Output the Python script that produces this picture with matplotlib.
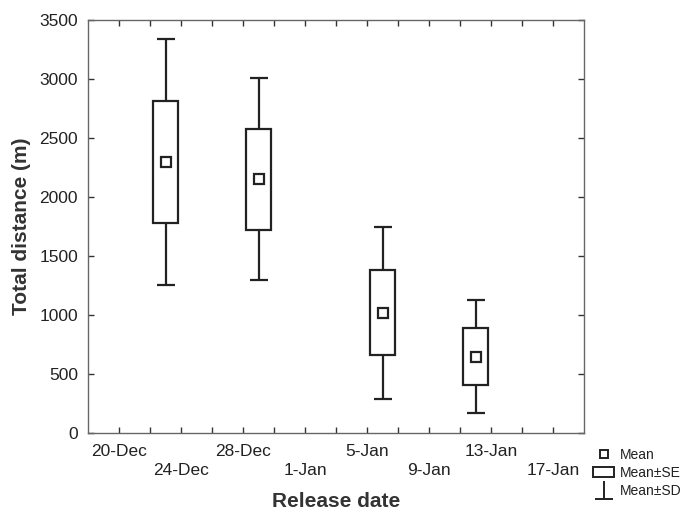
import matplotlib
matplotlib.use('Agg')
import matplotlib.pyplot as plt
import matplotlib.dates as mdates
import numpy as np
from datetime import date, timedelta
from matplotlib.lines import Line2D
from matplotlib.patches import Patch
from matplotlib.path import Path

plt.rcParams['font.family'] = ['Liberation Sans', 'DejaVu Sans']

release = [date(2012, 12, 23), date(2012, 12, 29), date(2013, 1, 6), date(2013, 1, 12)]
mean = np.array([2296, 2150, 1018, 647])
se = np.array([519, 430, 361, 240])
sd = np.array([1045, 855, 727, 480])

x = mdates.date2num(release)
box_w = 1.6
cap_w = 1.16
lw = 1.6
ink = '#222222'

fig = plt.figure(figsize=(6.85, 5.11), dpi=100)
ax = fig.add_axes([0.1285, 0.1526, 0.7241, 0.8083])

# whiskers (SD) and caps
ax.vlines(x, mean + se, mean + sd, color=ink, lw=lw, zorder=2)
ax.vlines(x, mean - sd, mean - se, color=ink, lw=lw, zorder=2)
ax.hlines(mean + sd, x - cap_w / 2, x + cap_w / 2, color=ink, lw=lw, zorder=2)
ax.hlines(mean - sd, x - cap_w / 2, x + cap_w / 2, color=ink, lw=lw, zorder=2)
# SE boxes
ax.bar(x, 2 * se, bottom=mean - se, width=box_w, facecolor='white',
       edgecolor=ink, linewidth=lw, zorder=3)
# mean
ax.plot(x, mean, 's', ms=6.5, mfc='white', mec=ink, mew=lw, zorder=4)

start = date(2012, 12, 18)
ax.set_xlim(mdates.date2num(start), mdates.date2num(date(2013, 1, 19)))
ax.set_ylim(0, 3500)
ax.set_yticks(np.arange(0, 3501, 500))

ticks = [start + timedelta(days=2 * i) for i in range(1, 16)]
labels = []
for i, d in enumerate(ticks):
    if i % 2 == 1:
        labels.append('')
    else:
        lab = '%d-%s' % (d.day, d.strftime('%b'))
        labels.append(lab if i % 4 == 0 else '\n' + lab)
ax.set_xticks(mdates.date2num(ticks))
ax.set_xticklabels(labels, linespacing=1.3)

ax.tick_params(direction='in', length=4, width=1, color='#333333',
               top=True, right=True, labelsize=12.5, labelcolor='#222222')
ax.tick_params(axis='x', pad=8.2)
ax.tick_params(axis='y', pad=7.2)
for s in ax.spines.values():
    s.set_color('#666666')
    s.set_linewidth(1)

ax.set_xlabel('Release date', fontsize=15, fontweight='bold', color='#333333')
ax.set_ylabel('Total distance (m)', fontsize=15, fontweight='bold', color='#333333')
ax.xaxis.set_label_coords(0.5, -0.143)
ax.yaxis.set_label_coords(-0.114, 0.5)

sd_path = Path([(0, 1), (0, -1), (-1, -1), (1, -1)],
               [Path.MOVETO, Path.LINETO, Path.MOVETO, Path.LINETO])
handles = [
    Line2D([], [], marker='s', ls='none', ms=6, mfc='white', mec=ink, mew=1.4),
    Patch(facecolor='white', edgecolor=ink, linewidth=1.4),
    Line2D([], [], marker=sd_path, ls='none', ms=13, mec=ink, mew=1.4),
]
fig.legend(handles, ['Mean', 'Mean\u00b1SE', 'Mean\u00b1SD'], loc='upper left',
           bbox_to_anchor=(0.866, 0.124), frameon=False, fontsize=10,
           handlelength=1.5, handletextpad=0.45, labelspacing=0.3,
           borderpad=0, borderaxespad=0, labelcolor='#222222')

fig.savefig('out.png', dpi=100)
